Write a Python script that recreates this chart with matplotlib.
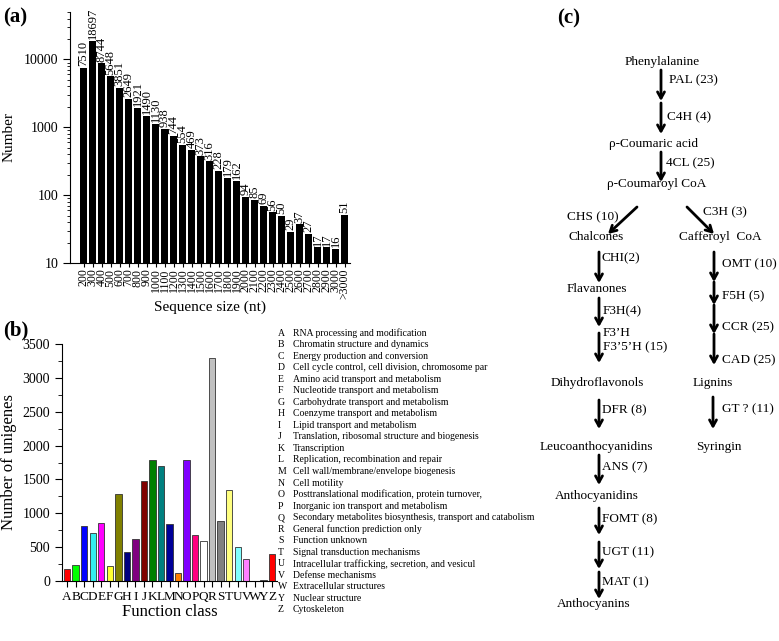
import matplotlib
matplotlib.use("Agg")
import matplotlib.pyplot as plt
from matplotlib.ticker import MultipleLocator, LogLocator, NullFormatter

plt.rcParams['font.family'] = ['Liberation Serif', 'DejaVu Serif']

# (a) length distribution
size_labels = [str(s) for s in range(200, 3100, 100)] + ['>3000']
size_counts = [7510, 18697, 8744, 5648, 3851, 2649, 1921, 1490, 1130, 938,
               744, 554, 469, 373, 316, 228, 179, 162, 94, 85,
               69, 56, 50, 29, 37, 27, 17, 17, 16, 51]

# (b) KOG function classes
kog_letters = list('ABCDEFGHIJKLMNOPQRSTUVWYZ')
kog_counts = [175, 235, 810, 710, 860, 215, 1280, 430, 620, 1470,
              1780, 1700, 845, 120, 1785, 680, 595, 3300, 885, 1350,
              505, 330, 0, 10, 405]
kog_colors = ['#ff0000', '#00ff00', '#0000ff', '#33eeee', '#ff00ff', '#ffff33',
              '#808000', '#000080', '#800080', '#800000', '#008000', '#008080',
              '#000099', '#ff8000', '#8000ff', '#ff0080', '#ffffff', '#c0c0c0',
              '#808080', '#ffff80', '#80ffff', '#ff80ff', '#c0c0c0', '#c0c0c0',
              '#ff0000']
kog_names = [
    'RNA processing and modification',
    'Chromatin structure and dynamics',
    'Energy production and conversion',
    'Cell cycle control, cell division, chromosome par',
    'Amino acid transport and metabolism',
    'Nucleotide transport and metabolism',
    'Carbohydrate transport and metabolism',
    'Coenzyme transport and metabolism',
    'Lipid transport and metabolism',
    'Translation, ribosomal structure and biogenesis',
    'Transcription',
    'Replication, recombination and repair',
    'Cell wall/membrane/envelope biogenesis',
    'Cell motility',
    'Posttranslational modification, protein turnover,',
    'Inorganic ion transport and metabolism',
    'Secondary metabolites biosynthesis, transport and catabolism',
    'General function prediction only',
    'Function unknown',
    'Signal transduction mechanisms',
    'Intracellular trafficking, secretion, and vesicul',
    'Defense mechanisms',
    'Extracellular structures',
    'Nuclear structure',
    'Cytoskeleton',
]

# (c) pathway: compounds (x, y, text) and enzyme steps in pixel coords
compounds = [
    (662, 62, 'Phenylalanine'), (654, 144, 'ρ-Coumaric acid'),
    (657, 184, 'ρ-Coumaroyl CoA'), (596, 237, 'Chalcones'),
    (720, 237, 'Cafferoyl  CoA'), (597, 289, 'Flavanones'),
    (597, 383, 'Dihydroflavonols'), (596, 447, 'Leucoanthocyanidins'),
    (597, 496, 'Anthocyanidins'), (594, 604, 'Anthocyanins'),
    (713, 383, 'Lignins'), (719, 447, 'Syringin'),
]
# arrow start, arrow end, label position, label
steps = [
    ((661, 70), (661, 101), (669, 80), 'PAL (23)'),
    ((661, 103), (661, 134), (667, 117), 'C4H (4)'),
    ((661, 152), (661, 182), (666, 163), '4CL (25)'),
    ((637, 207), (608, 234), (567, 217), 'CHS (10)'),
    ((687, 207), (714, 234), (703, 212), 'C3H (3)'),
    ((599, 252), (599, 283), (602, 258), 'CHI(2)'),
    ((599, 298), (599, 327), (603, 311), 'F3H(4)'),
    ((599, 333), (599, 363), (603, 340), "F3’H\nF3’5’H (15)"),
    ((599, 400), (599, 429), (602, 410), 'DFR (8)'),
    ((599, 455), (599, 485), (602, 467), 'ANS (7)'),
    ((599, 508), (599, 535), (602, 519), 'FOMT (8)'),
    ((599, 542), (599, 569), (602, 552), 'UGT (11)'),
    ((599, 572), (599, 599), (602, 582), 'MAT (1)'),
    ((714, 252), (714, 282), (722, 264), 'OMT (10)'),
    ((714, 282), (714, 305), (722, 296), 'F5H (5)'),
    ((714, 305), (714, 334), (722, 327), 'CCR (25)'),
    ((714, 334), (714, 365), (722, 360), 'CAD (25)'),
    ((713, 397), (713, 429), (722, 409), 'GT ? (11)'),
]

W, H = 779, 641
fig = plt.figure(figsize=(W / 100, H / 100), dpi=100)


def frac(x0, y_top, x1, y_bot):
    return [x0 / W, 1 - y_bot / H, (x1 - x0) / W, (y_bot - y_top) / H]


# ---- panel (a)
ax1 = fig.add_axes(frac(70, 12, 350, 263))
xa = list(range(len(size_counts)))
ax1.bar(xa, size_counts, width=0.8, color='black')
ax1.set_yscale('log')
ax1.set_ylim(10, 50000)
ax1.set_xlim(-1.5, len(size_counts) - 0.4)
for x, v in zip(xa, size_counts):
    ax1.text(x, v * 1.06, str(v), rotation=90, ha='center', va='bottom', fontsize=9)
ax1.set_xticks(xa)
ax1.set_xticklabels(size_labels, rotation=90, fontsize=8.5)
ax1.yaxis.set_major_locator(LogLocator(base=10, numticks=10))
ax1.yaxis.set_minor_locator(LogLocator(base=10, subs=range(2, 10), numticks=10))
ax1.yaxis.set_minor_formatter(NullFormatter())
ax1.set_yticks([10, 100, 1000, 10000])
ax1.set_yticklabels(['10', '100', '1000', '10000'], fontsize=10)
ax1.tick_params(axis='x', length=3, pad=1)
ax1.tick_params(axis='y', which='major', length=5)
ax1.tick_params(axis='y', which='minor', length=2)
ax1.spines[['top', 'right']].set_visible(False)
ax1.set_ylabel('Number', fontsize=11, labelpad=6)
ax1.set_xlabel('Sequence size (nt)', fontsize=11, labelpad=1)

# ---- panel (b)
ax2 = fig.add_axes(frac(62, 344, 277, 581))
xb = list(range(len(kog_counts)))
ax2.bar(xb, kog_counts, width=0.75, color=kog_colors, edgecolor='#333333', linewidth=0.6)
ax2.set_xlim(-0.6, len(kog_counts) - 0.4)
ax2.set_ylim(0, 3500)
ax2.set_xticks(xb)
ax2.set_xticklabels(kog_letters, fontsize=9.5)
ax2.yaxis.set_major_locator(MultipleLocator(500))
ax2.yaxis.set_minor_locator(MultipleLocator(250))
ax2.tick_params(axis='y', labelsize=10, length=5)
ax2.tick_params(axis='y', which='minor', length=3)
ax2.tick_params(axis='x', length=4, pad=3)
ax2.spines[['top', 'right']].set_visible(False)
ax2.set_ylabel('Number of unigenes', fontsize=12, labelpad=4)
ax2.set_xlabel('Function class', fontsize=12, labelpad=1)

# ---- overlay axes for text and pathway, pixel coordinates
ov = fig.add_axes([0, 0, 1, 1])
ov.set_xlim(0, W)
ov.set_ylim(H, 0)
ov.axis('off')

ov.text(3, 17, '(a)', fontsize=15, fontweight='bold', va='center')
ov.text(3, 330, '(b)', fontsize=15, fontweight='bold', va='center')
ov.text(557, 18, '(c)', fontsize=15, fontweight='bold', va='center')

for i, (letter, name) in enumerate(zip(kog_letters, kog_names)):
    y = 333 + i * 11.54
    ov.text(278, y, letter, fontsize=7, va='center')
    ov.text(293, y, name, fontsize=7, va='center')

for x, y, t in compounds:
    ov.text(x, y, t, fontsize=9.5, ha='center', va='center')

for start, end, lpos, label in steps:
    ov.annotate('', xy=end, xytext=start,
                arrowprops=dict(arrowstyle='->, head_length=0.45, head_width=0.25',
                                lw=2, color='black', shrinkA=0, shrinkB=0))
    ov.text(lpos[0], lpos[1], label, fontsize=9.5, ha='left', va='center',
            linespacing=1.2)

fig.savefig('out.png', dpi=100)
